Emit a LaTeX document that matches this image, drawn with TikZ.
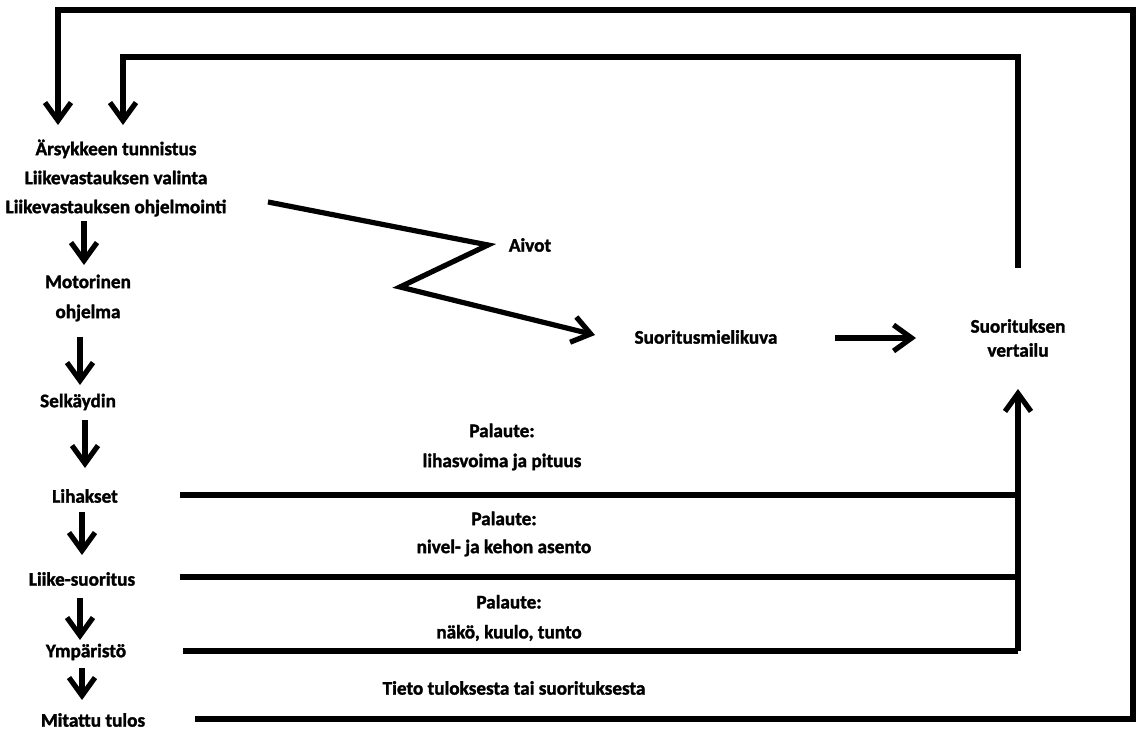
\documentclass[tikz,border=0pt]{standalone}
\usepackage{fontspec}
\setmainfont{Carlito}[BoldFeatures={FakeBold=1.6}]
\usetikzlibrary{arrows.meta}
\begin{document}
\begin{tikzpicture}[x=0.5pt,y=-0.5pt,
  lbl/.style={font=\bfseries\fontsize{9.6}{14.5}\selectfont, inner sep=0pt, align=center},
  ln/.style={line width=2.6pt},
  arr/.style={ln, -{Straight Barb[length=9pt,width=13pt]}},
]
\useasboundingbox[fill=white] (0,0) rectangle (1141,731);

% left column
\node[lbl] (aivo) at (116,178) {Ärsykkeen tunnistus\\Liikevastauksen valinta\\Liikevastauksen ohjelmointi};
\node[lbl,font=\bfseries\fontsize{9.6}{15}\selectfont] (mot) at (88,298) {Motorinen\\ohjelma};
\node[lbl] (sel) at (78,402) {Selkäydin};
\node[lbl] (lih) at (85,496) {Lihakset};
\node[lbl] (lii) at (82,579) {Liike-suoritus};
\node[lbl] (ymp) at (86,652) {Ympäristö};
\node[lbl] (mit) at (93,720) {Mitattu tulos};

% middle
\node[lbl] (aiv) at (530,245) {Aivot};
\node[lbl] (smk) at (706,337) {Suoritusmielikuva};
\node[lbl,font=\bfseries\fontsize{9.6}{12}\selectfont] (ver) at (1018,338) {Suorituksen\\vertailu};

% feedback labels
\node[lbl,font=\bfseries\fontsize{9.6}{15}\selectfont] (p1) at (502,447) {Palaute:\\lihasvoima ja pituus};
\node[lbl,font=\bfseries\fontsize{9.6}{14}\selectfont] (p2) at (504,534) {Palaute:\\nivel- ja kehon asento};
\node[lbl,font=\bfseries\fontsize{9.6}{15}\selectfont] (p3) at (509,618) {Palaute:\\näkö, kuulo, tunto};
\node[lbl] (p4) at (514,688) {Tieto tuloksesta tai suorituksesta};

% coordinates
\coordinate (l1) at (180,495);
\coordinate (l2) at (180,577);
\coordinate (l3) at (183,651);
\coordinate (l4) at (195,719);
\coordinate (r1) at (1018,495);
\coordinate (r2) at (1018,577);
\coordinate (r3) at (1018,651);
\coordinate (vt) at (1018,268);
\coordinate (it) at (1018,57);
\coordinate (il) at (123,57);
\coordinate (ia) at (123,125);
\coordinate (ob) at (1133,719);
\coordinate (ot) at (1133,10);
\coordinate (ol) at (58,10);
\coordinate (oa) at (58,125);
\coordinate (z0) at (268,202);
\coordinate (z1) at (488,245);
\coordinate (z2) at (400,287);
\coordinate (z3) at (595,335);

% down arrows
\draw[arr] (84,221) -- (84,265);
\draw[arr] (80,337) -- (80,385);
\draw[arr] (85,420) -- (85,468);
\draw[arr] (82,512) -- (82,555);
\draw[arr] (80,598) -- (80,640);
\draw[arr] (82,668) -- (82,700);

% zigzag
\draw[arr] (z0) -- (z1) -- (z2) -- (z3);
\draw[arr] (835,338) -- (916,338);

% feedback lines
\draw[ln] (l1) -- (r1);
\draw[ln] (l2) -- (r2);
\draw[ln] (l3) -- (r3);
\draw[arr] (r3) -- (1018,389);

% inner loop
\draw[arr] (vt) -- (it) -- (il) -- (ia);
% outer loop
\draw[arr] (l4) -- (ob) -- (ot) -- (ol) -- (oa);
\end{tikzpicture}
\end{document}
